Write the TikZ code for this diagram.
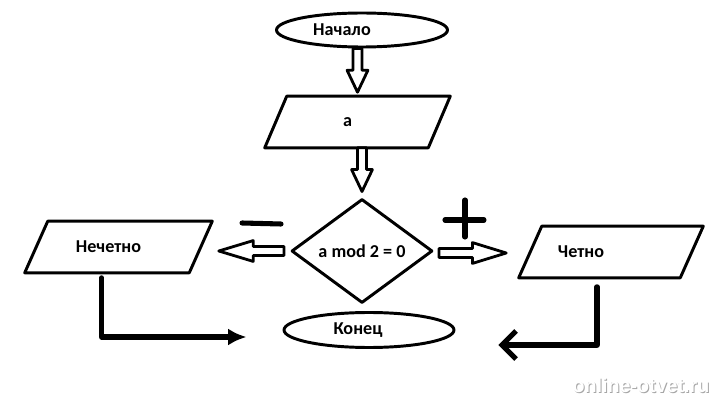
\documentclass[tikz,border=0pt]{standalone}
\usepackage{fontspec}
\setmainfont{Carlito}
\newfontfamily\wmfont{Liberation Sans}
\usetikzlibrary{shapes.geometric,arrows.meta,calc,positioning}
% hollow block arrow between two points
\newcommand{\fatarrow}[3][15.6pt]{%
 \coordinate (fa-s) at (#2);
 \coordinate (fa-e) at (#3);
 \coordinate (fa-m) at ($(fa-e)!#1!(fa-s)$);
 \draw[fat] ($(fa-s)!3.2pt!90:(fa-e)$) -- ($(fa-m)!3.2pt!-90:(fa-s)$) -- ($(fa-m)!7.4pt!-90:(fa-s)$)
  -- (fa-e) -- ($(fa-m)!7.4pt!90:(fa-s)$) -- ($(fa-m)!3.2pt!90:(fa-s)$) -- ($(fa-s)!3.2pt!-90:(fa-e)$) -- cycle;}
% slanted outline round a box node
\newcommand{\slantbox}[2][11]{%
 \draw[line width=2.1pt] ($(#2.north west)+(#1,0)$) -- ($(#2.north east)+(#1,0)$)
  -- ($(#2.south east)+(-#1,0)$) -- ($(#2.south west)+(-#1,0)$) -- cycle;}
\begin{document}
\begin{tikzpicture}[x=0.025cm,y=-0.025cm,line join=round,line cap=round,font=\fontsize{12.9}{15}\selectfont\bfseries]
 \def\pix{0.025cm}
 \tikzset{term/.style={ellipse,draw,line width=2.1pt,inner sep=0pt},
  io/.style={rectangle,inner sep=0pt,minimum height=51*\pix},
  test/.style={diamond,draw,line width=2.1pt,inner sep=0pt,minimum width=141*\pix,minimum height=104*\pix},
  fat/.style={draw,line width=2pt,fill=white},
  hand/.style={line width=3.6pt}}
 \useasboundingbox (0,0) rectangle (717,400);
 \node[term,minimum width=171*\pix,minimum height=34*\pix] (start) at (362,30) {Начало\hspace*{1cm}};
 \node[io,minimum width=163*\pix] (in) at (357.5,122) {a\hspace*{0.5cm}};
 \node[test] (cond) at (362,251) {a mod 2 = 0};
 \node[io,minimum width=164*\pix] (odd) at (118.5,247) {Нечетно\hspace*{0.5cm}};
 \node[io,minimum width=161*\pix] (even) at (611,252) {Четно\hspace*{1.5cm}};
 \node[term,minimum width=170*\pix,minimum height=35*\pix] (end) at (369,330) {Конец\hspace*{0.55cm}};
 \slantbox{in} \slantbox[11.5]{odd} \slantbox[11.5]{even}
 % block arrows
 \fatarrow{start.south -| in.north}{$(in.north)+(0,-4)$}
 \fatarrow{in.south -| cond.north}{$(cond.north)+(0,-6)$}
 \fatarrow[24.5pt]{$(cond.west)+(-6,0)$}{$(cond.west -| odd.east)+(18,0)$}
 \fatarrow[24pt]{$(cond.east)+(5,2)$}{$(cond.east -| even.west)+(-24,2)$}
 % signs
 \draw[hand] ($(cond.west)+(-48,-28)$) -- +(39,1);
 \draw[hand] ($(cond.east)+(11,-31)$) -- +(39,0) ($(cond.east)+(31,-51)$) -- +(0,37);
 % hand drawn returns
 \draw[hand,-{Latex[length=13pt,width=12pt]}] ($(odd.south)+(-17,5)$) |- ($(end.west)+(-36,7)$);
 \draw[hand,-{Straight Barb[length=10pt,width=20pt]}] ($(even.south)+(-14,9)$) |- ($(end.east)+(43,15)$);
 % watermark
 \node[text=black!35,font=\wmfont\fontsize{14}{16}\selectfont\bfseries] (markshadow) at (642,386) {online-otvet.ru};
 \node[text=white,font=\wmfont\fontsize{14}{16}\selectfont\bfseries] (mark) at (641,385) {online-otvet.ru};
\end{tikzpicture}
\end{document}
